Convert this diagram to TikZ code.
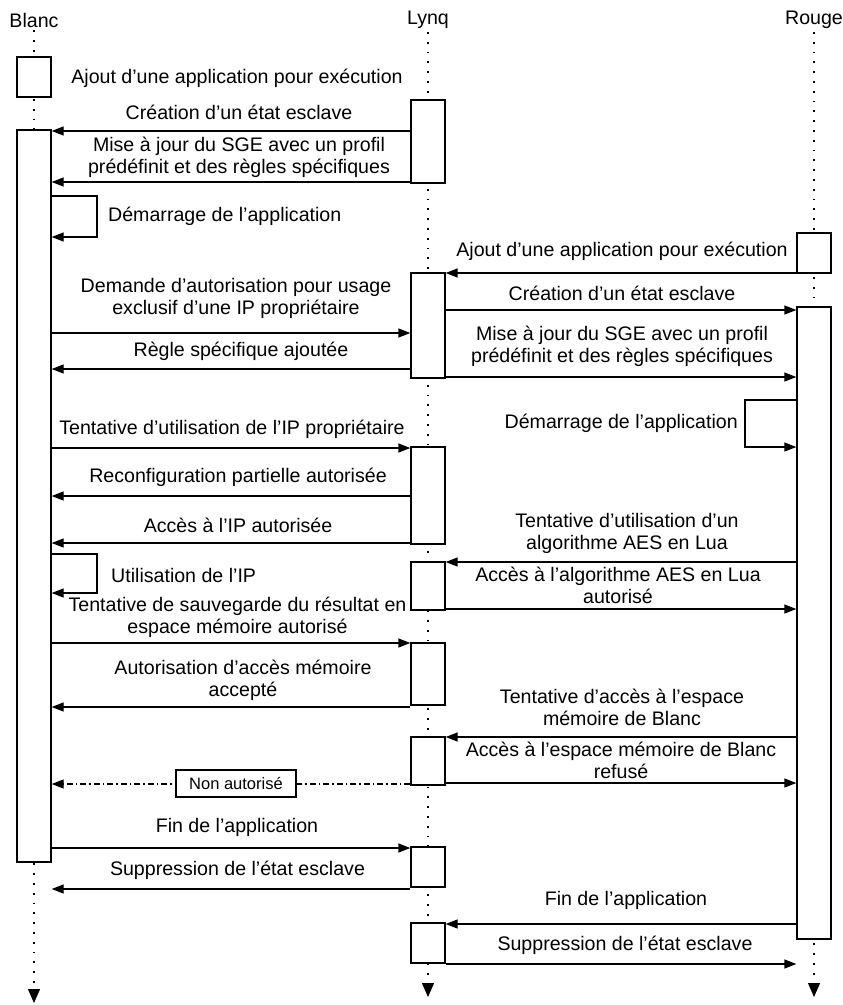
\documentclass[tikz,border=0pt]{standalone}
\usepackage{fontspec}
\setmainfont{Liberation Sans}
\usetikzlibrary{arrows.meta,positioning}

\begin{document}
\begin{tikzpicture}[
      x=1pt,y=-1pt,
      head/.style={font=\fontsize{19.6}{22}\selectfont,inner sep=3pt},
      lbl/.style={font=\fontsize{19.6}{22}\selectfont,align=center,inner sep=0pt},
      actbox/.style={rectangle,draw=black,line width=1.3pt,fill=white,minimum width=34,inner sep=0pt},
      lifeline/.style={line width=1.2pt,dash pattern=on 1.8pt off 8pt,-{Triangle[length=14pt,width=12pt]}},
      msg/.style={line width=1.3pt,-{Triangle[length=12pt,width=9pt]}},
      deny/.style={line width=1.2pt,dash pattern=on 6pt off 3pt on 1.5pt off 3pt,-{Triangle[length=12pt,width=9pt]}},
      tag/.style={rectangle,draw=black,line width=1.2pt,fill=white,font=\fontsize{16.5}{18}\selectfont,minimum width=120,minimum height=27,inner sep=0pt}
    ]
    \useasboundingbox (0,0) rectangle (843,1005);
    \node[head] (blanc) at (34,20) {Blanc};
    \node[head] (lynq) at (428,20) {Lynq};
    \node[head] (rouge) at (814,20) {Rouge};
    \coordinate (blancend) at (34,1003);
    \coordinate (lynqend) at (428,997);
    \coordinate (rougeend) at (814,997);
    \draw[lifeline] (blanc.south) -- (blancend);
    \draw[lifeline] (lynq.south) -- (lynqend);
    \draw[lifeline] (rouge.south) -- (rougeend);

    \node[actbox,minimum height=40] (b1) at (34,77) {};
    \node[actbox,minimum height=732] (b2) at (34,496) {};
    \node[actbox,minimum height=83] (l1) at (428,141.5) {};
    \node[actbox,minimum height=105] (l2) at (428,325.5) {};
    \node[actbox,minimum height=97] (l3) at (428,495.5) {};
    \node[actbox,minimum height=48] (l4) at (428,586) {};
    \node[actbox,minimum height=62] (l5) at (428,674) {};
    \node[actbox,minimum height=48] (l6) at (428,761) {};
    \node[actbox,minimum height=40] (l7) at (428,867) {};
    \node[actbox,minimum height=40] (l8) at (428,943) {};
    \node[actbox,minimum height=40] (r1) at (814,253) {};
    \node[actbox,minimum height=632] (r2) at (814,623) {};

    \node[lbl] (ajoutb) at (237,78) {Ajout d’une application pour exécution};
    \node[lbl] (creab) at (239,112) {Création d’un état esclave};
    \draw[msg] (l1.west |- 0,131) -- (b2.east |- 0,131);
    \node[lbl] (majb) at (239,157.5) {Mise à jour du SGE avec un profil\\prédéfinit et des règles spécifiques};
    \draw[msg] (l1.west |- 0,182) -- (b2.east |- 0,182);
    \node[lbl,anchor=west] (demb) at (108,216) {Démarrage de l’application};
    \draw[msg] (b2.east |- 0,196) -| (97,237) -- (b2.east |- 0,237);

    \node[lbl] (ajoutr) at (622,251) {Ajout d’une application pour exécution};
    \draw[msg] (r1.west |- 0,273) -- (l2.east |- 0,273);
    \node[lbl] (crear) at (622,293) {Création d’un état esclave};
    \draw[msg] (l2.east |- 0,310) -- (r2.west |- 0,310);
    \node[lbl] (majr) at (622,346) {Mise à jour du SGE avec un profil\\prédéfinit et des règles spécifiques};
    \draw[msg] (l2.east |- 0,377) -- (r2.west |- 0,377);
    \node[lbl] (demande) at (236,298.5) {Demande d’autorisation pour usage\\exclusif d’une IP propriétaire};
    \draw[msg] (b2.east |- 0,333) -- (l2.west |- 0,333);
    \node[lbl] (regle) at (241,351) {Règle spécifique ajoutée};
    \draw[msg] (l2.west |- 0,369) -- (b2.east |- 0,369);
    \node[lbl,anchor=east] (demr) at (738,423) {Démarrage de l’application};
    \draw[msg] (r2.west |- 0,400) -| (745,447) -- (r2.west |- 0,447);

    \node[lbl] (tentip) at (232,429) {Tentative d’utilisation de l’IP propriétaire};
    \draw[msg] (b2.east |- 0,448) -- (l3.west |- 0,448);
    \node[lbl] (reconf) at (238,477) {Reconfiguration partielle autorisée};
    \draw[msg] (l3.west |- 0,496) -- (b2.east |- 0,496);
    \node[lbl] (accip) at (238,525) {Accès à l’IP autorisée};
    \draw[msg] (l3.west |- 0,543) -- (b2.east |- 0,543);
    \node[lbl] (tentaes) at (627,533.5) {Tentative d’utilisation d’un\\algorithme AES en Lua};
    \draw[msg] (r2.west |- 0,562) -- (l4.east |- 0,562);
    \node[lbl] (accaes) at (618,585.5) {Accès à l’algorithme AES en Lua\\autorisé};
    \draw[msg] (l4.east |- 0,609) -- (r2.west |- 0,609);
    \node[lbl,anchor=west] (utilip) at (111,575) {Utilisation de l’IP};
    \draw[msg] (b2.east |- 0,554) -| (97,593) -- (b2.east |- 0,593);

    \node[lbl] (sauv) at (237.5,617) {Tentative de sauvegarde du résultat en\\espace mémoire autorisé};
    \draw[msg] (b2.east |- 0,643) -- (l5.west |- 0,643);
    \node[lbl] (autmem) at (243,680.5) {Autorisation d’accès mémoire\\accepté};
    \draw[msg] (l5.west |- 0,707) -- (b2.east |- 0,707);
    \node[lbl] (tentmem) at (622,707) {Tentative d’accès à l’espace\\mémoire de Blanc};
    \draw[msg] (r2.west |- 0,737) -- (l6.east |- 0,737);
    \node[lbl] (refus) at (621,760.5) {Accès à l’espace mémoire de Blanc\\refusé};
    \draw[msg] (l6.east |- 0,783) -- (r2.west |- 0,783);
    \draw[deny] (l6.west |- 0,784) -- (b2.east |- 0,784);
    \node[tag] (nonaut) at (236,783.5) {Non autorisé};

    \node[lbl] (finb) at (237,827) {Fin de l’application};
    \draw[msg] (b2.east |- 0,848) -- (l7.west |- 0,848);
    \node[lbl] (suppb) at (237.5,870) {Suppression de l’état esclave};
    \draw[msg] (l7.west |- 0,889) -- (b2.east |- 0,889);
    \node[lbl] (finr) at (626,900) {Fin de l’application};
    \draw[msg] (r2.west |- 0,924) -- (l8.east |- 0,924);
    \node[lbl] (suppr) at (625,945) {Suppression de l’état esclave};
    \draw[msg] (l8.east |- 0,964) -- (r2.west |- 0,964);
  \end{tikzpicture}
\end{document}
